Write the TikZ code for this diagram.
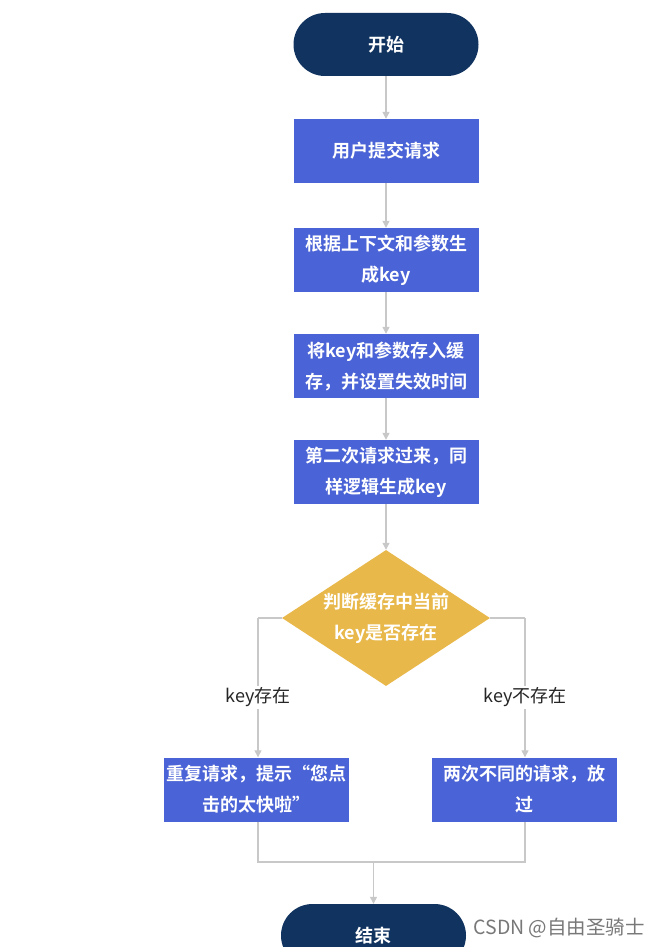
\documentclass[tikz,border=0pt]{standalone}
\usepackage{fontspec}
\setmainfont{Noto Sans CJK SC}
\newfontfamily\cjkbold{Noto Sans CJK SC Bold}
\usetikzlibrary{shapes.geometric,arrows.meta}
\definecolor{navy}{RGB}{17,51,96}
\definecolor{boxblue}{RGB}{74,99,214}
\definecolor{gold}{RGB}{232,184,74}
\definecolor{linegray}{RGB}{200,200,200}
\definecolor{wmgray}{RGB}{120,120,120}
\tikzset{
  terminal/.style={fill=navy, rounded corners=31.5pt, minimum width=185pt, minimum height=63pt, inner sep=0pt, text=white, font=\cjkbold\fontsize{18}{31}\selectfont},
  procbox/.style={fill=boxblue, minimum width=185pt, minimum height=64pt, inner sep=0pt, text=white, align=center, font=\cjkbold\fontsize{18}{31}\selectfont},
  decision/.style={diamond, fill=gold, minimum width=208pt, minimum height=136pt, inner sep=0pt},
  dtext/.style={text=white, align=center, font=\cjkbold\fontsize{18}{31}\selectfont},
  conn/.style={draw=linegray, line width=1.2pt},
  arr/.style={conn, -{Triangle[width=7pt,length=7pt,fill=linegray]}},
  lbl/.style={fill=white, inner sep=2pt, text=black!85, font=\fontsize{18}{22}\selectfont},
}
\begin{document}
\begin{tikzpicture}[x=1pt,y=-1pt]
\useasboundingbox (0,0) rectangle (659,947);
\fill[white] (0,0) rectangle (659,947);
\node[terminal] (start) at (386,44.5) {开始};
\node[procbox] (b1) at (386,151) {用户提交请求};
\node[procbox] (b2) at (386,260) {根据上下文和参数生\\成key};
\node[procbox] (b3) at (386,366) {将key和参数存入缓\\存，并设置失效时间};
\node[procbox] (b4) at (386,472) {第二次请求过来，同\\样逻辑生成key};
\node[decision] (d) at (386,618) {};
\node[dtext] at (d.center) {判断缓存中当前\\key是否存在};
\node[procbox] (l) at (256.5,789.5) {重复请求，提示“您点\\击的太快啦”};
\node[procbox] (r) at (524.5,789.5) {两次不同的请求，放\\过};
\node[terminal] (end) at (373.5,935.5) {结束};
\coordinate (lc) at (258,618);
\coordinate (rc) at (525,618);
\coordinate (lj) at (258,862);
\coordinate (rj) at (525,862);
\coordinate (mj) at (373.5,862);
\draw[arr] (start) -- (b1);
\draw[arr] (b1) -- (b2);
\draw[arr] (b2) -- (b3);
\draw[arr] (b3) -- (b4);
\draw[arr] (b4) -- (d);
\draw[conn] (d.west) -- (lc);
\draw[conn] (d.east) -- (rc);
\draw[arr] (lc) -- (lc |- l.north) node[lbl, pos=0.57] {key存在};
\draw[arr] (rc) -- (rc |- r.north) node[lbl, pos=0.57] {key不存在};
\draw[conn] (l.south -| lj) -- (lj) -- (rj) -- (r.south -| rj);
\draw[arr] (mj) -- (end);
\node[text=wmgray, font=\fontsize{19.5}{22}\selectfont, anchor=west] (wm) at (470,928) {CSDN @自由圣骑士};
\end{tikzpicture}
\end{document}
